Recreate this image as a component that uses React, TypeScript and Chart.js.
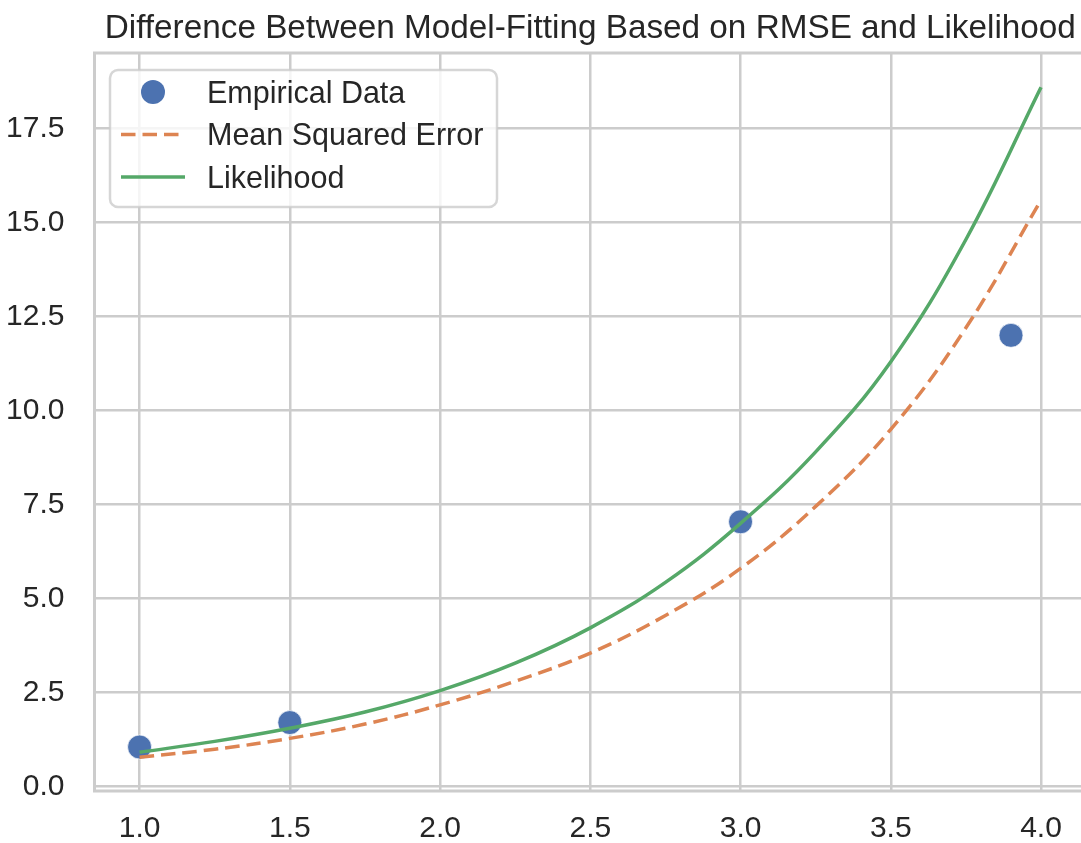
import React, { useEffect, useRef } from "react";
import { Chart, registerables } from "chart.js";

Chart.register(...registerables);

// ---- data ----
const TITLE = "Difference Between Model-Fitting Based on RMSE and Likelihood";
const SERIES_LABELS = ["Empirical Data", "Mean Squared Error", "Likelihood"];

const EMPIRICAL_X = [1.0, 1.5, 3.0, 3.9];
const EMPIRICAL_Y = [1.05, 1.7, 7.04, 12.0];

const CURVE_X = [1.0, 1.25, 1.5, 1.75, 2.0, 2.25, 2.5, 2.75, 3.0, 3.25, 3.5, 3.75, 4.0];
const MSE_FIT = [0.78, 0.99, 1.28, 1.66, 2.17, 2.8, 3.55, 4.55, 5.8, 7.45, 9.5, 12.2, 15.6];
const LIKELIHOOD_FIT = [0.91, 1.2, 1.55, 1.98, 2.55, 3.28, 4.22, 5.43, 7.0, 8.9, 11.3, 14.55, 18.6];

const X_TICKS = [1.0, 1.5, 2.0, 2.5, 3.0, 3.5, 4.0];
const Y_TICKS = [0, 2.5, 5.0, 7.5, 10.0, 12.5, 15.0, 17.5];

// ---- style ----
const BLUE = "#4C72B0";
const ORANGE = "#DD8452";
const GREEN = "#55A868";
const GRID = "#cccccc";
const TEXT = "#262626";
const FONT = "'Liberation Sans', Arial, Helvetica, sans-serif";
const DASH = [14.5, 7];
const LINE_W = 3.5;

const W = 1081;
const H = 843;

const framePlugin = {
  id: "frame",
  beforeDatasetsDraw(chart: any) {
    const { ctx, chartArea: a } = chart;
    ctx.save();
    ctx.strokeStyle = GRID;
    ctx.lineWidth = 3;
    ctx.beginPath();
    ctx.moveTo(a.right + 5, a.top);
    ctx.lineTo(a.left, a.top);
    ctx.lineTo(a.left, a.bottom);
    ctx.lineTo(a.right + 5, a.bottom);
    ctx.stroke();
    ctx.restore();
  },
};

const titleLegendPlugin = {
  id: "titleLegend",
  afterDraw(chart: any) {
    const { ctx, chartArea: a } = chart;
    const xs = chart.scales.x;
    ctx.save();

    // title, centred over the full axes span
    const axesRight = xs.getPixelForValue(4.15);
    ctx.font = `33.3px ${FONT}`;
    ctx.fillStyle = TEXT;
    ctx.textAlign = "center";
    ctx.textBaseline = "alphabetic";
    ctx.fillText(TITLE, (a.left + axesRight) / 2, 37.5);

    // legend box
    const bx = 110, by = 70, bw = 387, bh = 137, r = 8;
    ctx.beginPath();
    ctx.moveTo(bx + r, by);
    ctx.arcTo(bx + bw, by, bx + bw, by + bh, r);
    ctx.arcTo(bx + bw, by + bh, bx, by + bh, r);
    ctx.arcTo(bx, by + bh, bx, by, r);
    ctx.arcTo(bx, by, bx + bw, by, r);
    ctx.closePath();
    ctx.fillStyle = "rgba(255,255,255,0.8)";
    ctx.fill();
    ctx.strokeStyle = "rgba(204,204,204,0.8)";
    ctx.lineWidth = 2.5;
    ctx.stroke();

    const rows = [92, 134.5, 177];
    const fs = 30.5;

    // scatter entry
    ctx.beginPath();
    ctx.arc(153, rows[0], 12, 0, Math.PI * 2);
    ctx.fillStyle = BLUE;
    ctx.fill();

    // dashed entry
    ctx.lineCap = "butt";
    ctx.lineWidth = LINE_W;
    ctx.strokeStyle = ORANGE;
    ctx.setLineDash(DASH);
    ctx.beginPath();
    ctx.moveTo(121, rows[1]);
    ctx.lineTo(185, rows[1]);
    ctx.stroke();
    ctx.setLineDash([]);

    // solid entry
    ctx.strokeStyle = GREEN;
    ctx.beginPath();
    ctx.moveTo(121, rows[2]);
    ctx.lineTo(185, rows[2]);
    ctx.stroke();

    ctx.font = `${fs}px ${FONT}`;
    ctx.fillStyle = TEXT;
    ctx.textAlign = "left";
    ctx.textBaseline = "alphabetic";
    SERIES_LABELS.forEach((label, i) => {
      ctx.fillText(label, 207, rows[i] + 0.358 * fs);
    });

    ctx.restore();
  },
};

export default function App() {
  const canvasRef = useRef<HTMLCanvasElement | null>(null);

  useEffect(() => {
    const canvas = canvasRef.current;
    if (!canvas) return;

    const chart = new Chart(canvas, {
      type: "scatter",
      data: {
        datasets: [
          {
            label: SERIES_LABELS[1],
            type: "line",
            data: CURVE_X.map((x, i) => ({ x, y: MSE_FIT[i] })),
            borderColor: ORANGE,
            borderWidth: LINE_W,
            borderDash: DASH,
            borderCapStyle: "butt",
            pointRadius: 0,
            fill: false,
            tension: 0.4,
            order: 2,
          },
          {
            label: SERIES_LABELS[2],
            type: "line",
            data: CURVE_X.map((x, i) => ({ x, y: LIKELIHOOD_FIT[i] })),
            borderColor: GREEN,
            borderWidth: LINE_W,
            pointRadius: 0,
            fill: false,
            tension: 0.4,
            order: 1,
          },
          {
            label: SERIES_LABELS[0],
            data: EMPIRICAL_X.map((x, i) => ({ x, y: EMPIRICAL_Y[i] })),
            backgroundColor: BLUE,
            borderColor: "rgba(255,255,255,0.7)",
            borderWidth: 1,
            pointRadius: 12,
            order: 3,
          },
        ],
      } as any,
      options: {
        responsive: false,
        animation: false,
        layout: { autoPadding: false, padding: { top: 53, left: 0, right: 0, bottom: 0 } },
        plugins: {
          legend: { display: false },
          title: { display: false },
          tooltip: { enabled: false },
        },
        scales: {
          x: {
            type: "linear",
            min: 0.85,
            max: 4.133,
            afterBuildTicks: (s: any) => {
              s.ticks = X_TICKS.map((v) => ({ value: v }));
            },
            afterFit: (s: any) => {
              s.height = 52;
              s.paddingLeft = 0;
              s.paddingRight = 0;
            },
            grid: { color: GRID, lineWidth: 2.5, drawTicks: false },
            border: { display: false },
            ticks: {
              padding: 20,
              color: TEXT,
              font: { size: 30, family: FONT },
              maxRotation: 0,
              callback: (v: any) => Number(v).toFixed(1),
            },
          },
          y: {
            type: "linear",
            min: -0.12,
            max: 19.51,
            afterBuildTicks: (s: any) => {
              s.ticks = Y_TICKS.map((v) => ({ value: v }));
            },
            afterFit: (s: any) => {
              s.width = 94.5;
              s.paddingTop = 0;
              s.paddingBottom = 0;
            },
            grid: { color: GRID, lineWidth: 2.5, drawTicks: false },
            border: { display: false },
            ticks: {
              padding: 30,
              color: TEXT,
              font: { size: 30, family: FONT },
              callback: (v: any) => Number(v).toFixed(1),
            },
          },
        },
      } as any,
      plugins: [framePlugin, titleLegendPlugin],
    });

    return () => chart.destroy();
  }, []);

  return (
    <div style={{ position: "absolute", left: 0, top: 0, width: W, height: H, background: "#fff" }}>
      <canvas ref={canvasRef} width={W} height={H} style={{ display: "block" }} />
    </div>
  );
}
